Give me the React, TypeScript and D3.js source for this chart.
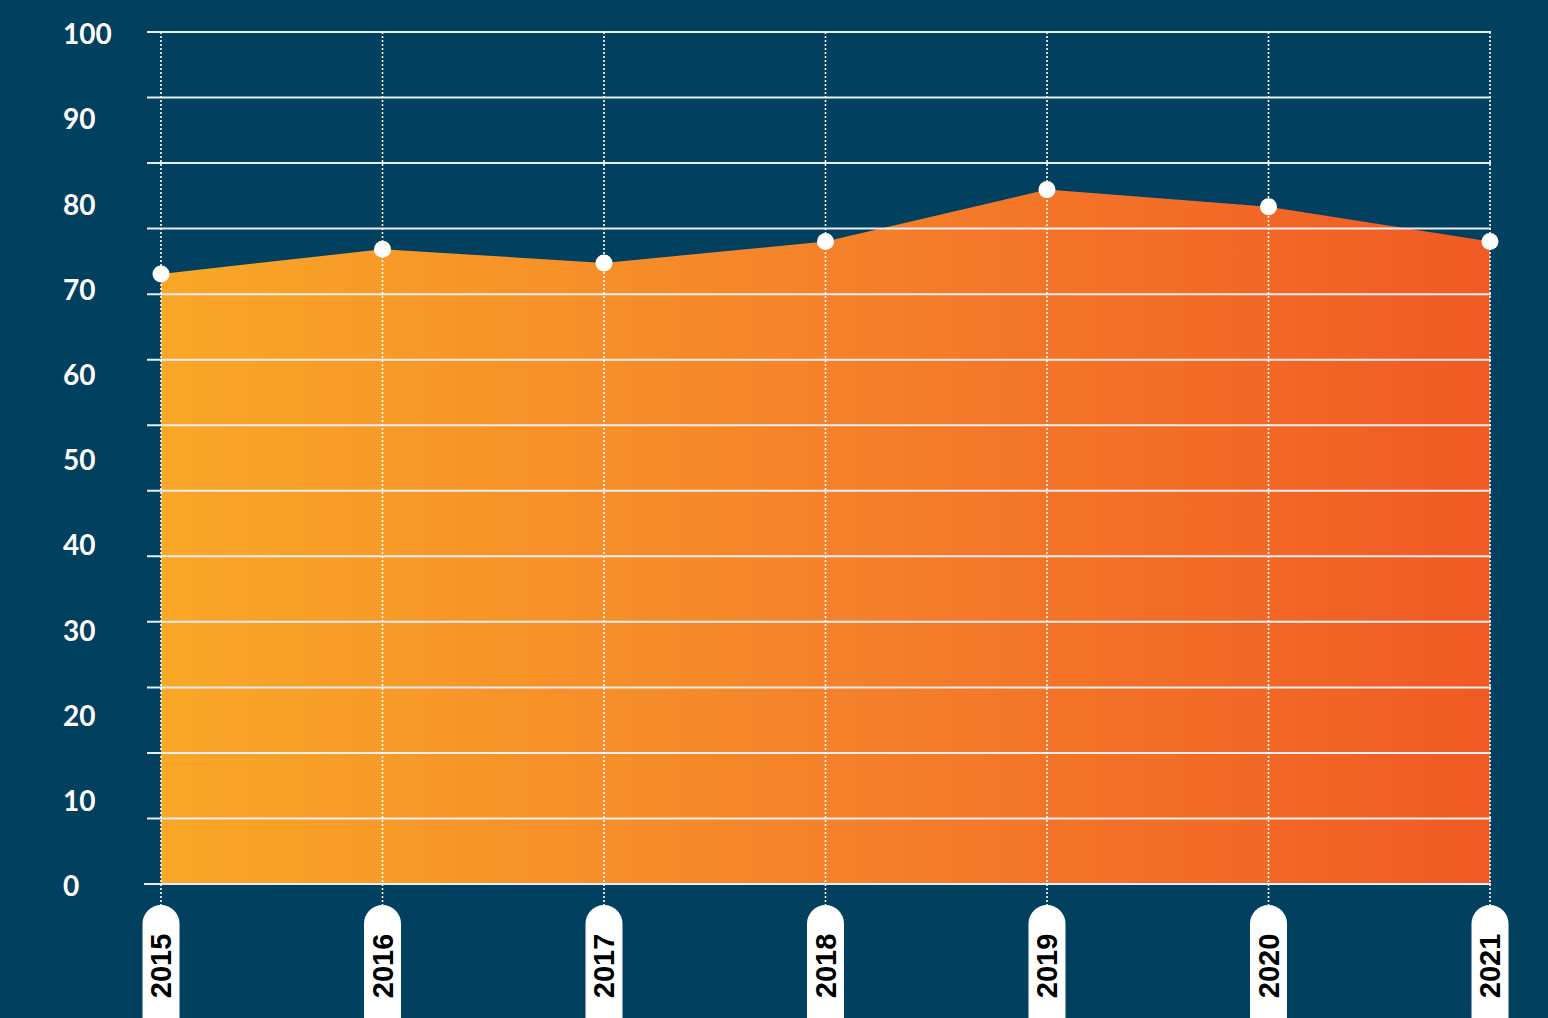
import React from "react";
import * as d3 from "d3";

const years = ["2015", "2016", "2017", "2018", "2019", "2020", "2021"];
const values = [71.6, 74.5, 72.9, 75.4, 81.5, 79.5, 75.4];
const yTicks = [0, 10, 20, 30, 40, 50, 60, 70, 80, 90, 100];
const gridCount = 13;

const W = 1548;
const H = 1018;
const BG = "#01405f";

export default function App() {
  const x = d3.scalePoint<string>().domain(years).range([161, 1490]);
  const y = d3.scaleLinear().domain([0, 100]).range([884, 32]);
  const data = years.map((yr, i) => ({ yr, v: values[i] }));
  const area = d3
    .area<{ yr: string; v: number }>()
    .x((d) => x(d.yr)!)
    .y0(y(0))
    .y1((d) => y(d.v));
  const gridYs = d3.range(gridCount + 1).map((i) => y(0) + ((y(100) - y(0)) * i) / gridCount);

  return (
    <svg
      width={W}
      height={H}
      style={{ position: "fixed", left: 0, top: 0, background: BG }}
    >
      <defs>
        <linearGradient id="g" x1="0" x2="1" y1="0" y2="0">
          <stop offset="0%" stopColor="#f9a727" />
          <stop offset="50%" stopColor="#f5822a" />
          <stop offset="100%" stopColor="#f05a24" />
        </linearGradient>
      </defs>
      <rect width={W} height={H} fill={BG} />
      <path d={area(data)!} fill="url(#g)" />
      {gridYs.map((gy, i) => (
        <line
          key={i}
          x1={i === 0 ? 144 : 147}
          x2={1491}
          y1={gy}
          y2={gy}
          stroke="#e6eef3"
          strokeWidth={2}
        />
      ))}
      {years.map((yr) => (
        <line
          key={yr}
          x1={x(yr)}
          x2={x(yr)}
          y1={y(100)}
          y2={908}
          stroke="#ffffff"
          strokeWidth={1.6}
          strokeDasharray="2 2"
        />
      ))}
      {yTicks.map((t) => (
        <text
          key={t}
          x={63}
          y={y(t) + 5}
          fill="#ffffff"
          fontFamily="Lato, 'Open Sans', sans-serif"
          fontWeight={700}
          fontSize={28}
          dominantBaseline="middle"
        >
          {t}
        </text>
      ))}
      {data.map((d) => (
        <circle key={d.yr} cx={x(d.yr)} cy={y(d.v)} r={8.5} fill="#ffffff" />
      ))}
      {years.map((yr) => (
        <g key={yr} transform={`translate(${x(yr)},0)`}>
          <rect x={-18.5} y={905} width={37} height={140} rx={18.5} fill="#ffffff" />
          <text
            transform={`translate(0,966) rotate(-90)`}
            textAnchor="middle"
            dominantBaseline="central"
            fill="#000000"
            fontFamily="'Liberation Sans', Arial, sans-serif"
            fontWeight={700}
            fontSize={29}
          >
            {yr}
          </text>
        </g>
      ))}
    </svg>
  );
}
